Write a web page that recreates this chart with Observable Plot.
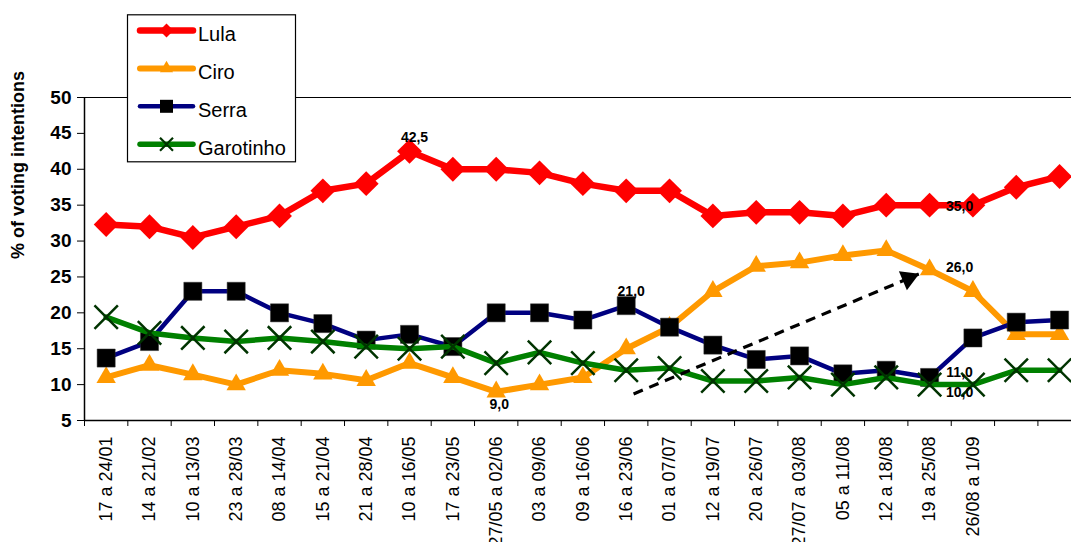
<!DOCTYPE html>
<html><head><meta charset="utf-8">
<script src="https://cdn.jsdelivr.net/npm/d3@7"></script>
<script src="https://cdn.jsdelivr.net/npm/@observablehq/plot@0.6"></script>
<style>
body{margin:0;background:#fff;}
#chart{position:relative;width:1071px;height:542px;overflow:hidden;background:#fff;}
</style></head><body><div id="chart"></div>
<script>
const periods = ["17 a 24/01","14 a 21/02","10 a 13/03","23 a 28/03","08 a 14/04","15 a 21/04","21 a 28/04","10 a 16/05","17 a 23/05","27/05 a 02/06","03 a 09/06","09 a 16/06","16 a 23/06","01 a 07/07","12 a 19/07","20 a 26/07","27/07 a 03/08","05 a 11/08","12 a 18/08","19 a 25/08","26/08 a 1/09","",""];
const lula      = [32.3, 32, 30.5, 32, 33.5, 37, 38, 42.5, 40, 40, 39.5, 38, 37, 37, 33.5, 34, 34, 33.5, 35, 35, 35, 37.5, 39];
const ciro      = [11, 12.7, 11.4, 10, 12, 11.5, 10.6, 13, 11, 9, 10, 11, 15, 18, 23, 26.5, 27, 28, 28.7, 26, 23, 17, 17];
const serra     = [13.7, 16, 23, 23, 20, 18.5, 16.2, 17, 15.3, 20, 20, 19, 21, 18, 15.5, 13.5, 14, 11.5, 12, 11, 16.5, 18.7, 19];
const garotinho = [19.4, 17.2, 16.5, 16, 16.5, 16, 15.3, 15, 15.3, 13, 14.5, 13, 12, 12.3, 10.5, 10.5, 11, 10, 11, 10, 10, 12, 12];
const seriesNames = ["Lula", "Ciro", "Serra", "Garotinho"];
const yTicks = [5, 10, 15, 20, 25, 30, 35, 40, 45, 50];
const yLabel = "% of voting intentions";
const labelsAbove = [["Lula", 7], ["Serra", 12]];
const labelsBelow = [["Ciro", 9]];
const labelsRight = [["Lula", 19], ["Ciro", 19], ["Serra", 19], ["Garotinho", 19]];
const arrowFrom = [12.17, 8.7];
const arrowTo = [18.75, 25.4];

const values = {Lula: lula, Ciro: ciro, Serra: serra, Garotinho: garotinho};
const rows = seriesNames.flatMap(name => values[name].map((v, i) => ({name, i, v})));
const boundaries = d3.range(periods.length).map(i => i - 0.5);
const fmt = v => v.toFixed(1).replace(".", ",");
const pick = list => list.map(([name, i]) => ({name, i, v: values[name][i]}));

const style = {
  Lula:      {line: "#ff0000", lw: 6.5, dot: {symbol: "diamond2", r: 11.2, fill: "#ff0000", stroke: "none"}},
  Ciro:      {line: "#ff9900", lw: 6,   dot: {symbol: "triangle", r: 7.2, fill: "#ff9900", stroke: "none"}},
  Serra:     {line: "#000080", lw: 4.5, dot: {symbol: "square", r: 10.2, fill: "#000000", stroke: "#333", strokeWidth: 0.5}},
  Garotinho: {line: "#008000", lw: 5.5, dot: {symbol: "times", r: 10.7, fill: "none", stroke: "#003300", strokeWidth: 2.5}}
};

const font = "'Liberation Sans', Arial, Helvetica, sans-serif";
const marks = [
  Plot.ruleY([50], {stroke: "#000", strokeWidth: 1.2}),
  Plot.ruleY([5], {stroke: "#000", strokeWidth: 1.5}),
  Plot.ruleX([-0.5], {y1: 5, y2: 50, stroke: "#000", strokeWidth: 1.5}),
  Plot.axisY({ticks: yTicks, tickSize: 7, tickPadding: 6, fontSize: 19, fontWeight: "bold", label: null, fill: "#000"}),
  Plot.axisX({ticks: boundaries, tickSize: 6, tickFormat: () => "", label: null}),
  Plot.text(periods.map((p, i) => ({p, i})), {x: "i", text: "p", frameAnchor: "bottom", dy: 16, rotate: -90, textAnchor: "end", lineAnchor: "middle", fontSize: 18, fill: "#000"}),
  Plot.text([yLabel], {frameAnchor: "left", dx: -66, rotate: -90, fontWeight: "bold", fontSize: 18, fill: "#000"})
];
for (const name of seriesNames) {
  const data = rows.filter(d => d.name === name);
  const s = style[name];
  marks.push(Plot.line(data, {x: "i", y: "v", stroke: s.line, strokeWidth: s.lw, strokeLinejoin: "round", strokeLinecap: "round"}));
  marks.push(Plot.dot(data, {x: "i", y: "v", ...s.dot}));
}
const lblOpts = {x: "i", y: "v", text: d => fmt(d.v), fontWeight: "bold", fontSize: 14, fill: "#000"};
marks.push(Plot.text(pick(labelsAbove), {...lblOpts, dx: 5, dy: -14}));
marks.push(Plot.text(pick(labelsBelow), {...lblOpts, dx: 3, dy: 13}));
const rightDy = {Lula: 1, Ciro: -2, Serra: -5, Garotinho: 8};
for (const item of pick(labelsRight)) {
  marks.push(Plot.text([item], {...lblOpts, dx: 30, dy: rightDy[item.name]}));
}
// dashed arrow
marks.push(Plot.link([{a: arrowFrom, b: arrowTo}], {x1: d => d.a[0], y1: d => d.a[1], x2: d => d.b[0], y2: d => d.b[1], stroke: "#000", strokeWidth: 3.2, strokeDasharray: "10,7"}));
marks.push(Plot.dot([arrowTo], {x: d => d[0], y: d => d[1], symbol: "triangle", r: 7.6, fill: "#000", stroke: "none", rotate: 67, dx: -10.4, dy: 4.4}));

const chart = Plot.plot({
  width: 1071, height: 542,
  marginLeft: 84, marginRight: 0, marginTop: 97, marginBottom: 122,
  x: {type: "linear", domain: [-0.5, 22.275]},
  y: {domain: [5, 50]},
  style: {fontFamily: font, background: "#fff", color: "#000", overflow: "hidden"},
  marks
});
document.getElementById("chart").appendChild(chart);

// legend
const svg = d3.select(chart);
const lg = svg.append("g").attr("font-family", font);
lg.append("rect").attr("x", 127.5).attr("y", 14.8).attr("width", 168).attr("height", 147)
  .attr("fill", "#fff").attr("stroke", "#000").attr("stroke-width", 1.2);
const legSym = {
  Lula: {t: d3.symbolDiamond2, size: 125},
  Ciro: {t: d3.symbolTriangle, size: 75},
  Serra: {t: d3.symbolSquare, size: 169},
  Garotinho: {t: d3.symbolTimes, size: 112}
};
seriesNames.forEach((name, k) => {
  const y = 30.5 + 37.9 * k;
  const s = style[name];
  lg.append("line").attr("x1", 140).attr("x2", 193).attr("y1", y).attr("y2", y)
    .attr("stroke", s.line).attr("stroke-width", s.lw).attr("stroke-linecap", "round");
  const p = lg.append("path").attr("d", d3.symbol(legSym[name].t, legSym[name].size)())
    .attr("transform", `translate(166.5,${y})`);
  if (name === "Garotinho") p.attr("fill", "none").attr("stroke", "#003300").attr("stroke-width", 2.2);
  else p.attr("fill", s.dot.fill);
  lg.append("text").attr("x", 198).attr("y", y + 10.4).attr("text-anchor", "start")
    .attr("font-size", 20).attr("fill", "#000").text(name);
});
</script></body></html>
